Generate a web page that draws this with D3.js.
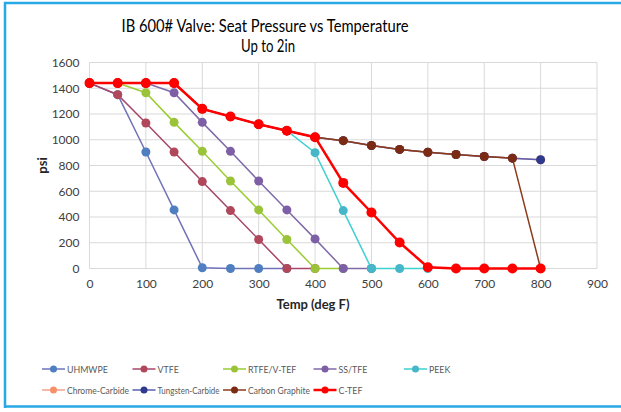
<!DOCTYPE html>
<html>
<head>
<meta charset="utf-8">
<title>Seat Pressure vs Temperature</title>
<script src="https://d3js.org/d3.v7.min.js"></script>
<style type="text/css">
body { margin: 0; background: #fff; }
text { font-family: Lato, "Open Sans", sans-serif; fill: #404040; }
</style>
</head>
<body>
<div id="chart"></div>
<script>
// temperatures (deg F)
var temps = [0, 50, 100, 150, 200, 250, 300, 350, 400, 450, 500, 550, 600, 650, 700, 750, 800];

// seat pressure (psi) per material
var uhmwpe   = [1440, 1350, 905, 455, 6, 0, 0, 0];
var vtfe     = [1440, 1350, 1130, 905, 675, 450, 225, 0, 0];
var rtfe     = [1440, 1440, 1365, 1135, 910, 680, 455, 225, 0, 0];
var sstfe    = [1440, 1440, 1440, 1365, 1135, 910, 680, 455, 230, 0, 0];
var peek     = [1440, 1440, 1440, 1440, 1240, 1180, 1120, 1070, 900, 450, 0, 0, 0];
var chrome   = [1440, 1440, 1440, 1440, 1240, 1180, 1120, 1070, 1020, 993, 955, 925, 903, 885, 870, 857, 845];
var tungsten = [1440, 1440, 1440, 1440, 1240, 1180, 1120, 1070, 1020, 993, 955, 925, 903, 885, 870, 857, 845];
var graphite = [1440, 1440, 1440, 1440, 1240, 1180, 1120, 1070, 1020, 993, 955, 925, 903, 885, 870, 857, 0];
var ctef     = [1440, 1440, 1440, 1440, 1240, 1180, 1120, 1070, 1020, 665, 435, 202, 10, 0, 0, 0, 0];

var names  = ["UHMWPE", "VTFE", "RTFE/V-TEF", "SS/TFE", "PEEK", "Chrome-Carbide", "Tungsten-Carbide", "Carbon Graphite", "C-TEF"];
var values = [uhmwpe, vtfe, rtfe, sstfe, peek, chrome, tungsten, graphite, ctef];
var lineColors   = ["#6f73b8", "#a8456b", "#9acd32", "#7f6aa8", "#3fd0d0", "#f4a090", "#5a5fb0", "#8b3a1a", "#ff0000"];
var markerColors = ["#4f7fc0", "#b0475a", "#9bc33a", "#7d5fa6", "#46b7c8", "#f7906a", "#2e3a8c", "#7b2a14", "#ff0000"];

var xTicks = [0, 100, 200, 300, 400, 500, 600, 700, 800, 900];
var yTicks = [0, 200, 400, 600, 800, 1000, 1200, 1400, 1600];

var W = 621, H = 412;
var svg = d3.select("#chart").append("svg")
    .attr("width", W)
    .attr("height", H);

// frame (left, top, bottom edges only)
svg.append("line").attr("x1", 4).attr("x2", W).attr("y1", 3).attr("y2", 3)
    .attr("stroke", "#27a9e6").attr("stroke-width", 2.5);
svg.append("line").attr("x1", 5).attr("x2", 5).attr("y1", 2).attr("y2", 408)
    .attr("stroke", "#27a9e6").attr("stroke-width", 2.5);
svg.append("line").attr("x1", 4).attr("x2", W).attr("y1", 406.5).attr("y2", 406.5)
    .attr("stroke", "#27a9e6").attr("stroke-width", 2.5);

var x = d3.scaleLinear().domain([0, 900]).range([89.5, 597]);
var y = d3.scaleLinear().domain([0, 1600]).range([268.5, 62.5]);

// gridlines
svg.append("g").selectAll("line").data(yTicks).enter().append("line")
    .attr("x1", x(0)).attr("x2", x(900))
    .attr("y1", function(d) { return y(d); }).attr("y2", function(d) { return y(d); })
    .attr("stroke", "#d9d9d9").attr("stroke-width", 1);
svg.append("g").selectAll("line").data(xTicks).enter().append("line")
    .attr("y1", y(0)).attr("y2", y(1600))
    .attr("x1", function(d) { return x(d); }).attr("x2", function(d) { return x(d); })
    .attr("stroke", "#d9d9d9").attr("stroke-width", 1);

// axes
var xAxis = svg.append("g")
    .attr("transform", "translate(0," + y(0) + ")")
    .call(d3.axisBottom(x).tickValues(xTicks).tickFormat(d3.format("d")).tickSize(0).tickPadding(11));
var yAxis = svg.append("g")
    .attr("transform", "translate(" + x(0) + ",0)")
    .call(d3.axisLeft(y).tickValues(yTicks).tickFormat(d3.format("d")).tickSize(0).tickPadding(10));
[xAxis, yAxis].forEach(function(a) {
  a.select(".domain").remove();
  a.selectAll("text").style("font-size", "12px").style("font-family", "Lato, sans-serif").attr("fill", "#404040");
});

// titles
svg.append("text").attr("x", 265).attr("y", 32).attr("text-anchor", "middle")
    .attr("textLength", 287).attr("lengthAdjust", "spacingAndGlyphs")
    .style("font-size", "17px").style("fill", "#000")
    .text("IB 600# Valve: Seat Pressure vs Temperature");
svg.append("text").attr("x", 268).attr("y", 52).attr("text-anchor", "middle")
    .attr("textLength", 54).attr("lengthAdjust", "spacingAndGlyphs")
    .style("font-size", "17px").style("fill", "#000")
    .text("Up to 2in");
svg.append("text").attr("text-anchor", "middle")
    .attr("transform", "translate(47," + y(800) + ")rotate(-90)")
    .style("font-size", "13px").style("font-weight", "bold").style("fill", "#262626")
    .text("psi");
svg.append("text").attr("text-anchor", "middle")
    .attr("x", 313).attr("y", 309)
    .style("font-size", "13px").style("font-weight", "bold").style("fill", "#262626")
    .text("Temp (deg F)");

// series
var line = d3.line()
    .x(function(d, i) { return x(temps[i]); })
    .y(function(d) { return y(d); });

values.forEach(function(vals, k) {
  var red = names[k] == "C-TEF";
  var g = svg.append("g");
  g.append("path")
    .attr("d", line(vals))
    .attr("fill", "none")
    .attr("stroke", lineColors[k])
    .attr("stroke-width", red ? 2.5 : 1.5);
  g.selectAll("circle").data(vals).enter().append("circle")
    .attr("cx", function(d, i) { return x(temps[i]); })
    .attr("cy", function(d) { return y(d); })
    .attr("r", red ? 5 : 4.5)
    .attr("fill", markerColors[k]);
});

// legend
var legend = svg.append("g");
names.forEach(function(n, k) {
  var row = k < 5 ? 0 : 1;
  var col = k < 5 ? k : k - 5;
  var lx = 42 + col * 90.5, ly = 369 + row * 21;
  var item = legend.append("g").attr("transform", "translate(" + lx + "," + ly + ")");
  item.append("line").attr("x1", 0).attr("x2", 23).attr("y1", 0).attr("y2", 0)
    .attr("stroke", lineColors[k]).attr("stroke-width", n == "C-TEF" ? 2.5 : 1.5);
  item.append("circle").attr("cx", 11.5).attr("cy", 0).attr("r", 3.5).attr("fill", markerColors[k]);
  var t = item.append("text").attr("x", 25).attr("y", 3.5)
    .style("font-size", "10px").style("fill", "#595959")
    .text(n);
  // squeeze long labels into the column like the original
  var len = t.node().getComputedTextLength();
  if (len * 0.88 > 62) t.attr("textLength", 62).attr("lengthAdjust", "spacingAndGlyphs");
  else t.attr("textLength", len * 0.88).attr("lengthAdjust", "spacingAndGlyphs");
});
</script>
</body>
</html>
